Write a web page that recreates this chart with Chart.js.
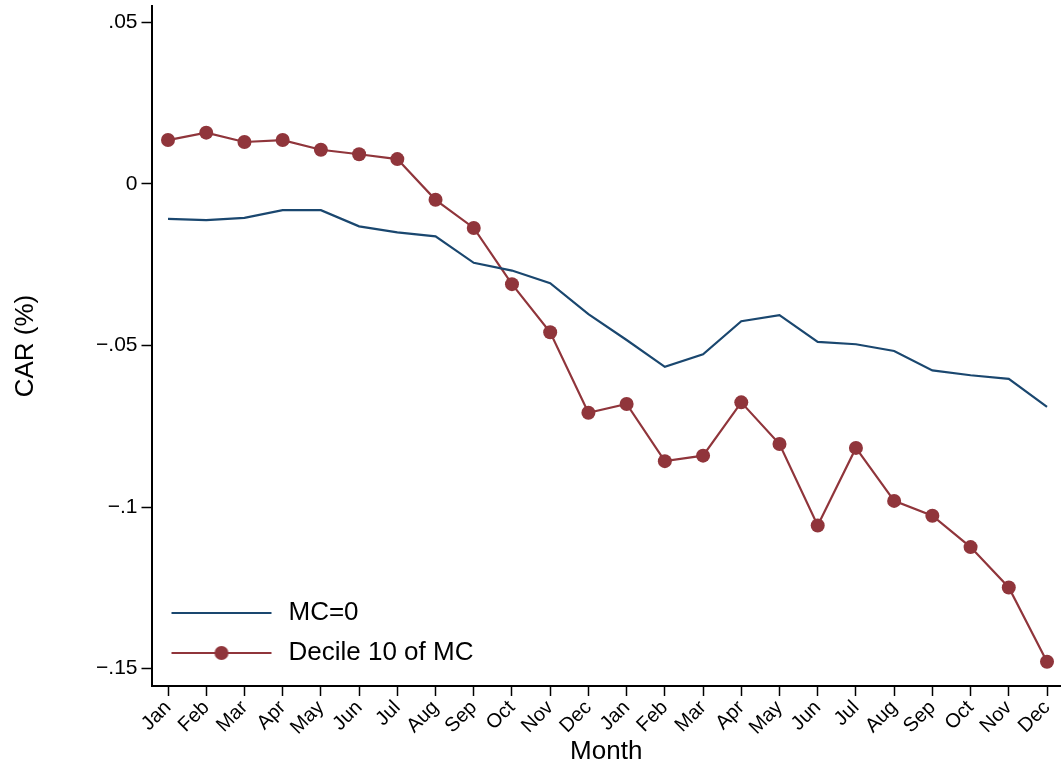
<!DOCTYPE html>
<html>
<head>
<meta charset="utf-8">
<script src="https://cdn.jsdelivr.net/npm/chart.js@4/dist/chart.umd.min.js"></script>
<style>
  html, body { margin: 0; padding: 0; background: #fff; overflow: hidden; }
  #wrap { width: 1061px; height: 769px; }
</style>
</head>
<body>
<div id="wrap"><canvas id="chart" width="1061" height="769"></canvas></div>
<script>
// month labels over two years
const months = [
  "Jan", "Feb", "Mar", "Apr", "May", "Jun", "Jul", "Aug", "Sep", "Oct", "Nov", "Dec",
  "Jan", "Feb", "Mar", "Apr", "May", "Jun", "Jul", "Aug", "Sep", "Oct", "Nov", "Dec",
];

const mcZero = [
  -0.0108, -0.0112, -0.0105, -0.0081, -0.0081, -0.0131, -0.0150, -0.0162, -0.0244, -0.0268, -0.0307, -0.0403,
  -0.0483, -0.0566, -0.0527, -0.0425, -0.0406, -0.0489, -0.0496, -0.0517, -0.0577, -0.0592, -0.0603, -0.0690,
];

const decile10 = [
  0.0136, 0.0159, 0.0130, 0.0136, 0.0106, 0.0092, 0.0077, -0.0049, -0.0136, -0.0310, -0.0459, -0.0708,
  -0.0681, -0.0858, -0.0841, -0.0676, -0.0805, -0.1057, -0.0817, -0.0981, -0.1027, -0.1124, -0.1249, -0.1479,
];

const yTicks = [-0.15, -0.1, -0.05, 0, 0.05];
const yTickLabels = ["\u2212.15", "\u2212.1", "\u2212.05", "0", ".05"];

const NAVY = "#1a476f";
const MAROON = "#90353b";
const FONT = "'Liberation Sans', Arial, sans-serif";

// legend sample: 100px line, dot in the middle for the marker series
function legendIcon(color, withDot) {
  const c = document.createElement("canvas");
  c.width = 106;
  c.height = 16;
  const ctx = c.getContext("2d");
  ctx.strokeStyle = color;
  ctx.lineWidth = 2;
  ctx.beginPath();
  ctx.moveTo(4, 8);
  ctx.lineTo(104, 8);
  ctx.stroke();
  if (withDot) {
    ctx.fillStyle = color;
    ctx.beginPath();
    ctx.arc(54, 8, 7, 0, Math.PI * 2);
    ctx.fill();
  }
  return c;
}
const icons = [legendIcon(NAVY, false), legendIcon(MAROON, true)];

const toPoints = (vals) => vals.map((v, i) => ({ x: i, y: v }));

new Chart(document.getElementById("chart"), {
  type: "line",
  data: {
    datasets: [
      {
        label: "MC=0",
        data: toPoints(mcZero),
        borderColor: NAVY,
        backgroundColor: NAVY,
        borderWidth: 2.2,
        pointRadius: 0,
        tension: 0,
      },
      {
        label: "Decile 10 of MC",
        data: toPoints(decile10),
        borderColor: MAROON,
        backgroundColor: MAROON,
        borderWidth: 2.2,
        pointRadius: 7,
        pointBorderWidth: 0,
        pointBackgroundColor: MAROON,
        tension: 0,
      },
    ],
  },
  options: {
    responsive: false,
    animation: false,
    events: [],
    layout: { autoPadding: false, padding: { top: 6, left: 0, right: 0, bottom: 0 } },
    plugins: {
      tooltip: { enabled: false },
      legend: {
        position: "chartArea",
        align: "end",
        labels: {
          usePointStyle: true,
          pointStyleWidth: 110,
          padding: 14,
          color: "#000",
          font: { family: FONT, size: 26 },
          generateLabels: (chart) =>
            Chart.defaults.plugins.legend.labels.generateLabels(chart).map((l, i) => ({
              ...l,
              pointStyle: icons[i],
            })),
        },
      },
    },
    scales: {
      x: {
        type: "linear",
        min: -0.432,
        max: 23.366,
        afterBuildTicks: (s) => { s.ticks = months.map((m, i) => ({ value: i })); },
        afterFit: (s) => { s.height = 83; s.paddingLeft = 0; s.paddingRight = 0; },
        grid: { drawOnChartArea: false, drawTicks: true, tickLength: 10, tickColor: "#000", tickWidth: 1.5 },
        border: { display: true, color: "#000", width: 2 },
        ticks: {
          autoSkip: false,
          maxRotation: 45,
          minRotation: 45,
          padding: 0,
          color: "#000",
          font: { family: FONT, size: 20 },
          callback: (v, i) => months[i],
        },
        title: {
          display: true,
          text: "Month",
          color: "#000",
          font: { family: FONT, size: 26 },
          padding: { top: 0, bottom: 2 },
        },
      },
      y: {
        min: -0.1554,
        max: 0.0551,
        afterBuildTicks: (s) => { s.ticks = yTicks.map((v) => ({ value: v })); },
        afterFit: (s) => { s.width = 151.5; s.paddingTop = 0; s.paddingBottom = 0; },
        grid: { drawOnChartArea: false, drawTicks: true, tickLength: 10, tickColor: "#000", tickWidth: 1.5 },
        border: { display: true, color: "#000", width: 2 },
        ticks: {
          padding: 4,
          color: "#000",
          font: { family: FONT, size: 21 },
          callback: (v, i) => yTickLabels[i],
        },
        title: {
          display: true,
          text: "CAR (%)",
          color: "#000",
          font: { family: FONT, size: 26 },
          padding: { top: 10, bottom: 0 },
        },
      },
    },
  },
});
</script>
</body>
</html>
